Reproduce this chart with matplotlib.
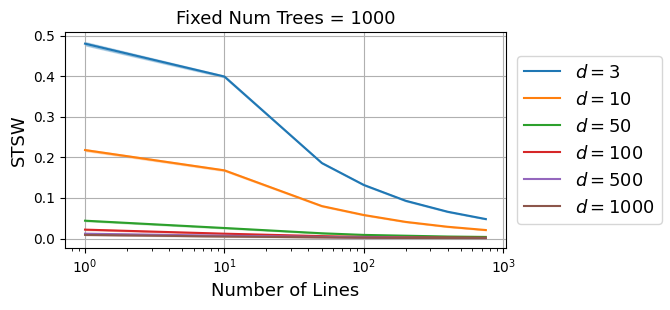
import numpy as np
import matplotlib
matplotlib.use("Agg")
import matplotlib.pyplot as plt

num_lines = [1, 10, 50, 100, 200, 400, 750]
dims = [3, 10, 50, 100, 500, 1000]

stsw_mean = {
    3: [0.480, 0.399, 0.186, 0.132, 0.093, 0.066, 0.048],
    10: [0.218, 0.168, 0.080, 0.058, 0.041, 0.029, 0.021],
    50: [0.044, 0.026, 0.013, 0.009, 0.007, 0.005, 0.004],
    100: [0.022, 0.012, 0.006, 0.004, 0.003, 0.0025, 0.002],
    500: [0.012, 0.007, 0.004, 0.003, 0.002, 0.0015, 0.0012],
    1000: [0.009, 0.005, 0.003, 0.002, 0.0015, 0.0012, 0.001],
}
stsw_std = {
    3: [0.004, 0.002, 0.001, 0.001, 0.001, 0.0008, 0.0005],
    10: [0.002, 0.0015, 0.001, 0.0008, 0.0006, 0.0005, 0.0004],
    50: [0.001, 0.0008, 0.0005, 0.0004, 0.0003, 0.0002, 0.0002],
    100: [0.001, 0.0006, 0.0004, 0.0003, 0.0002, 0.0002, 0.0001],
    500: [0.0008, 0.0004, 0.0003, 0.0002, 0.0002, 0.0001, 0.0001],
    1000: [0.0006, 0.0004, 0.0002, 0.0002, 0.0001, 0.0001, 0.0001],
}

fig, ax = plt.subplots(figsize=(6.7, 3.1), dpi=100)
x = np.array(num_lines)
for d in dims:
    m = np.array(stsw_mean[d])
    s = np.array(stsw_std[d])
    line, = ax.plot(x, m, label=r"$d = %d$" % d)
    ax.fill_between(x, m - s, m + s, color=line.get_color(), alpha=0.3)

ax.set_xscale("log")
ax.grid(True)
ax.set_title("Fixed Num Trees = 1000", fontsize=13)
ax.set_xlabel("Number of Lines", fontsize=13)
ax.set_ylabel("STSW", fontsize=13)
ax.legend(loc="center left", bbox_to_anchor=(1.005, 0.5), fontsize=13)
plt.subplots_adjust(left=0.097, right=0.755, bottom=0.2, top=0.896)
plt.savefig("out.png")
